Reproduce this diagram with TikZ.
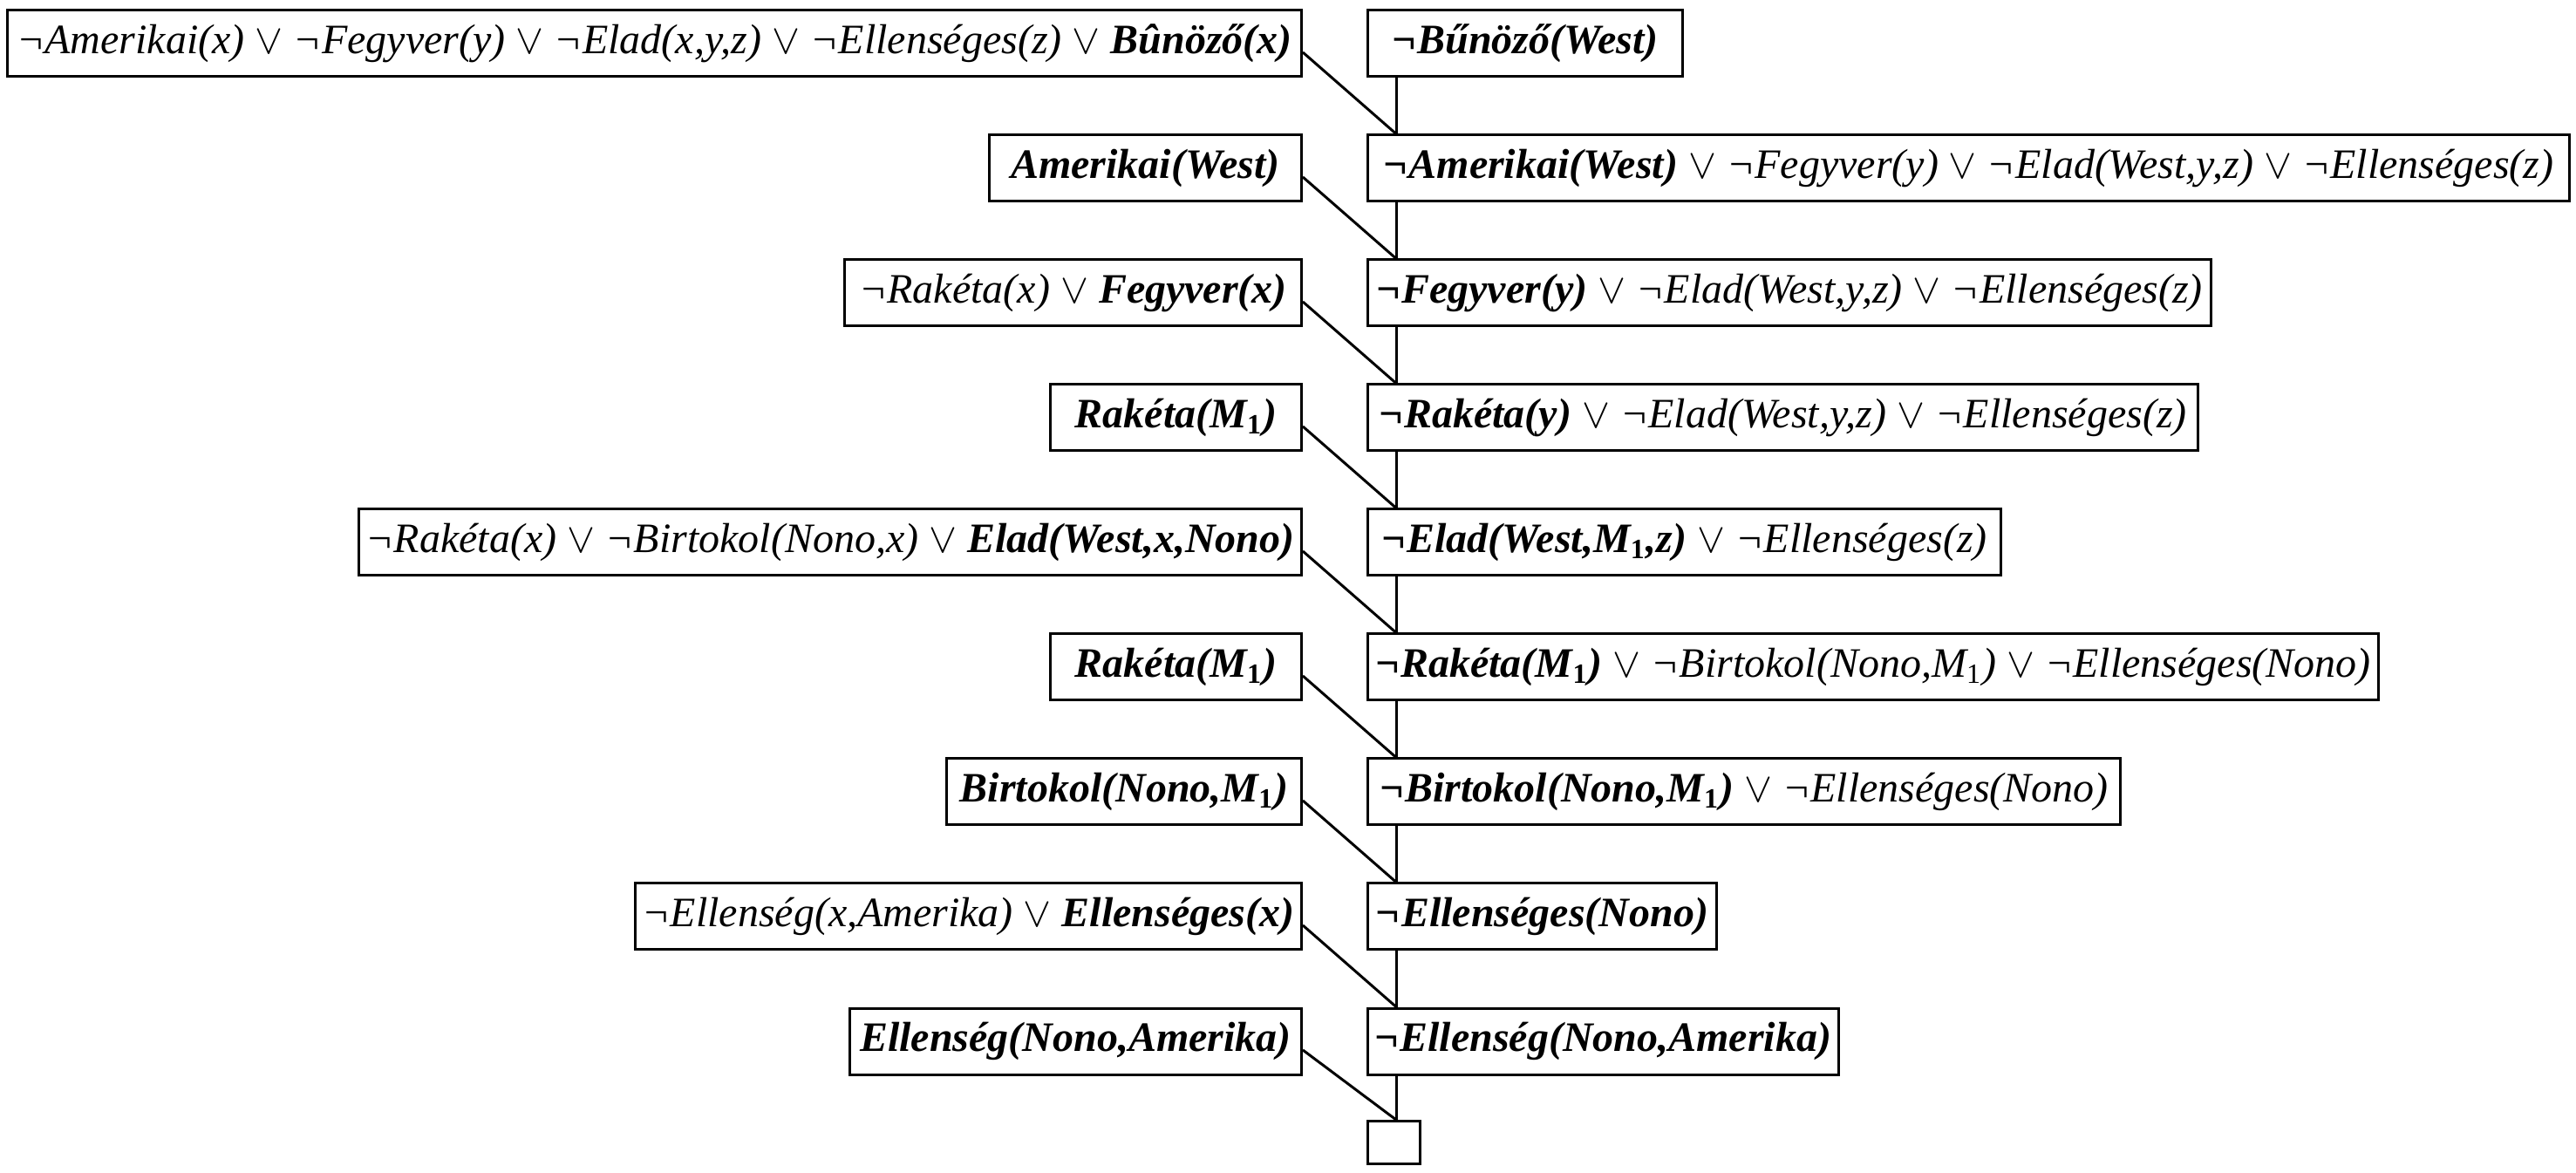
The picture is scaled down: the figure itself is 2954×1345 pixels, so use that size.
\documentclass[tikz,border=0pt]{standalone}
\usepackage{fontspec}
\setmainfont{Liberation Serif}
\usetikzlibrary{calc}
\newcommand{\orr}{\ensuremath{\vee}}
\newcommand{\subone}{\textsubscript{\upshape 1}}
\begin{document}
\begin{tikzpicture}[x=0.25pt,y=-0.25pt,
  clause/.style={draw, line width=0.75pt, minimum height=19pt, inner xsep=2pt, inner ysep=0pt,
    font=\fontsize{12}{14}\selectfont\itshape},
  lclause/.style={clause, anchor=east},
  rclause/.style={clause, anchor=west},
  conn/.style={line width=0.75pt}]
\useasboundingbox (0,0) rectangle (2954,1345);
% left column
\node[lclause, minimum width=371pt] (L1) at (1494,50) {¬Amerikai(x) \orr{} ¬Fegyver(y) \orr{} ¬Elad(x,y,z) \orr{} ¬Ellenséges(z) \orr{} \textbf{Bûnöző(x)}};
\node[lclause, minimum width=89.5pt] (L2) at (1494,193) {\textbf{Amerikai(West)}};
\node[lclause, minimum width=131pt] (L3) at (1494,336) {¬Rakéta(x) \orr{} \textbf{Fegyver(x)}};
\node[lclause, minimum width=72pt] (L4) at (1494,479) {\textbf{Rakéta(M\subone)}};
\node[lclause, minimum width=269.5pt] (L5) at (1494,622) {¬Rakéta(x) \orr{} ¬Birtokol(Nono,x) \orr{} \textbf{Elad(West,x,Nono)}};
\node[lclause, minimum width=72pt] (L6) at (1494,765) {\textbf{Rakéta(M\subone)}};
\node[lclause, minimum width=101.75pt] (L7) at (1494,908) {\textbf{Birtokol(Nono,M\subone)}};
\node[lclause, minimum width=187.5pt] (L8) at (1494,1051) {¬Ellenség(x,Amerika) \orr{} \textbf{Ellenséges(x)}};
\node[lclause, minimum width=129.5pt] (L9) at (1494,1194) {\textbf{Ellenség(Nono,Amerika)}};
% right column
\node[rclause, minimum width=90.25pt] (R0) at (1567,50) {\textbf{¬Bűnöző(West)}};
\node[rclause, minimum width=344.5pt] (R1) at (1567,193) {\textbf{¬Amerikai(West)} \orr{} ¬Fegyver(y) \orr{} ¬Elad(West,y,z) \orr{} ¬Ellenséges(z)};
\node[rclause, minimum width=241.75pt] (R2) at (1567,336) {\textbf{¬Fegyver(y)} \orr{} ¬Elad(West,y,z) \orr{} ¬Ellenséges(z)};
\node[rclause, minimum width=238pt] (R3) at (1567,479) {\textbf{¬Rakéta(y)} \orr{} ¬Elad(West,y,z) \orr{} ¬Ellenséges(z)};
\node[rclause, minimum width=181.5pt] (R4) at (1567,622) {\textbf{¬Elad(West,M\subone,z)} \orr{} ¬Ellenséges(z)};
\node[rclause, minimum width=289.75pt] (R5) at (1567,765) {\textbf{¬Rakéta(M\subone)} \orr{} ¬Birtokol(Nono,M\subone) \orr{} ¬Ellenséges(Nono)};
\node[rclause, minimum width=215.75pt] (R6) at (1567,908) {\textbf{¬Birtokol(Nono,M\subone)} \orr{} ¬Ellenséges(Nono)};
\node[rclause, minimum width=100pt] (R7) at (1567,1051) {\textbf{¬Ellenséges(Nono)}};
\node[rclause, minimum width=134.25pt] (R8) at (1567,1194) {\textbf{¬Ellenség(Nono,Amerika)}};
\node[draw, line width=0.75pt, anchor=north west, minimum width=15pt, minimum height=12.25pt, inner sep=0pt] (E) at (1567,1284) {};
% connectors
\foreach \a/\b in {R0/R1,R1/R2,R2/R3,R3/R4,R4/R5,R5/R6,R6/R7,R7/R8,R8/E}
  \draw[conn] ($(\a.south west)+(34,0)$) -- ($(\b.north west)+(34,0)$);
\foreach \a/\b in {L1/R1,L2/R2,L3/R3,L4/R4,L5/R5,L6/R6,L7/R7,L8/R8,L9/E}
  \draw[conn] ($(\a.east)+(0,10)$) -- ($(\b.north west)+(34,0)$);
\end{tikzpicture}
\end{document}
